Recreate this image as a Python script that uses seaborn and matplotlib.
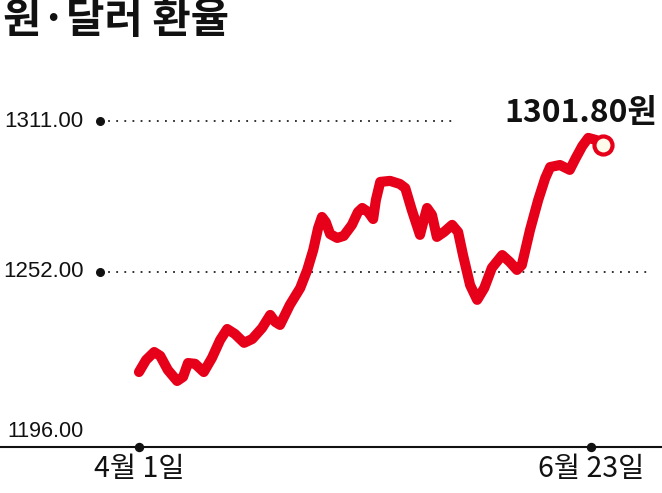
import matplotlib
matplotlib.use('Agg')
import matplotlib.pyplot as plt
import seaborn as sns

# 원·달러 환율, 4월 1일 ~ 6월 23일 (x: 4월 1일부터 지난 날수)
days = [0.0, 1.3, 2.8, 3.9, 5.3, 7.0, 8.1, 9.0, 10.3, 11.9,
        13.4, 14.9, 16.2, 17.6, 19.3, 20.8, 22.6, 24.1, 25.0, 25.9,
        27.7, 29.6, 30.9, 32.0, 32.9, 33.6, 34.3, 35.1, 36.4, 37.6,
        39.1, 40.2, 41.0, 42.1, 43.0, 43.5, 44.3, 46.1, 47.9, 48.9,
        50.1, 51.6, 52.3, 52.9, 53.8, 54.7, 56.0, 57.5, 58.6, 59.5,
        60.8, 62.1, 63.4, 64.8, 66.7, 68.1, 69.4, 70.3, 71.8, 73.3,
        74.6, 75.5, 77.3, 79.1, 80.2, 81.4, 82.5, 83.9, 85.2]
rate = [1212.9, 1217.6, 1220.7, 1219.2, 1213.7, 1209.4, 1211.0, 1216.4, 1216.1, 1212.9,
        1218.4, 1225.4, 1229.7, 1227.8, 1224.3, 1225.8, 1230.1, 1235.2, 1232.5, 1231.3,
        1239.1, 1245.7, 1252.8, 1260.6, 1269.2, 1273.5, 1271.5, 1266.8, 1265.3, 1266.1,
        1270.4, 1275.4, 1277.0, 1275.4, 1272.7, 1280.1, 1287.2, 1287.6, 1286.4, 1284.8,
        1276.2, 1266.5, 1272.3, 1277.0, 1274.3, 1265.7, 1267.6, 1270.4, 1267.6, 1258.6,
        1246.9, 1241.1, 1245.7, 1253.6, 1258.6, 1255.9, 1252.8, 1254.7, 1268.4, 1280.1,
        1288.7, 1293.0, 1293.8, 1291.9, 1296.5, 1301.2, 1304.4, 1303.6, 1301.8]

tick_days = [0, 83]
tick_labels = ['4월 1일', '6월 23일']
grid_values = [1311, 1252]
grid_labels = ['1311.00', '1252.00']
base_label = '1196.00'
last_label = '1301.80원'

RED = '#E60019'
KR = ['Noto Sans CJK KR', 'DejaVu Sans']
NUM = ['Liberation Sans', 'DejaVu Sans']

sns.set_style('white')
plt.rcParams['font.family'] = KR

fig = plt.figure(figsize=(6.62, 4.93), dpi=100)
ax = fig.add_axes([0, 0.0939, 1, 0.9061])
ymin, ymax = 1183.7, 1358.3
ax.set_xlim(-25.52, 96.04)
ax.set_ylim(ymin, ymax)

# dotted guide lines with a dot at the left end
guide_ends = [0.683, 0.985]
for val, lab, end in zip(grid_values, grid_labels, guide_ends):
    ax.axhline(val, xmin=0.151, xmax=end, color='#222222', lw=1.3,
               linestyle=(0, (1, 3.5)), zorder=1)
    ax.text(0.126, val, lab, transform=ax.get_yaxis_transform(),
            ha='right', va='center', fontsize=16, family=NUM, color='#111111')
ax.scatter([0.151] * len(grid_values), grid_values, s=30, color='#111111',
           transform=ax.get_yaxis_transform(), zorder=3, clip_on=False)
ax.annotate(base_label, xy=(0.126, ymin), xycoords=ax.get_yaxis_transform(),
            xytext=(0, 7), textcoords='offset points', ha='right', va='baseline',
            fontsize=15.5, family=NUM, color='#111111')

sns.lineplot(x=days, y=rate, color=RED, linewidth=7.3, ax=ax,
             solid_capstyle='round', solid_joinstyle='round', zorder=4)
ax.plot(days[-1], rate[-1], 'o', ms=13, mfc='#FFFBEA', mec=RED, mew=3, zorder=5)
ax.annotate(last_label, xy=(days[-1], rate[-1]), xytext=(39, 23),
            textcoords='offset points', ha='right', va='center',
            fontsize=23, fontweight='bold', color='#111111')

# baseline axis
for side in ['top', 'right', 'left']:
    ax.spines[side].set_visible(False)
ax.spines['bottom'].set_linewidth(1.5)
ax.spines['bottom'].set_color('#111111')
ax.set_yticks([])
ax.set_xticks(tick_days, tick_labels, fontsize=20.5, color='#111111')
ax.tick_params(axis='x', direction='in', length=9.4, width=0.8,
               color='#555555', pad=5)
ax.scatter(tick_days, [ymin] * len(tick_days), s=33, color='#111111',
           zorder=6, clip_on=False)
ax.set_xlabel('')
ax.set_ylabel('')

fig.text(0.004, 1.0, '원·달러 환율', ha='left', va='top',
         fontsize=30, fontweight='bold', color='#111111')

fig.savefig('out.png', dpi=100)
